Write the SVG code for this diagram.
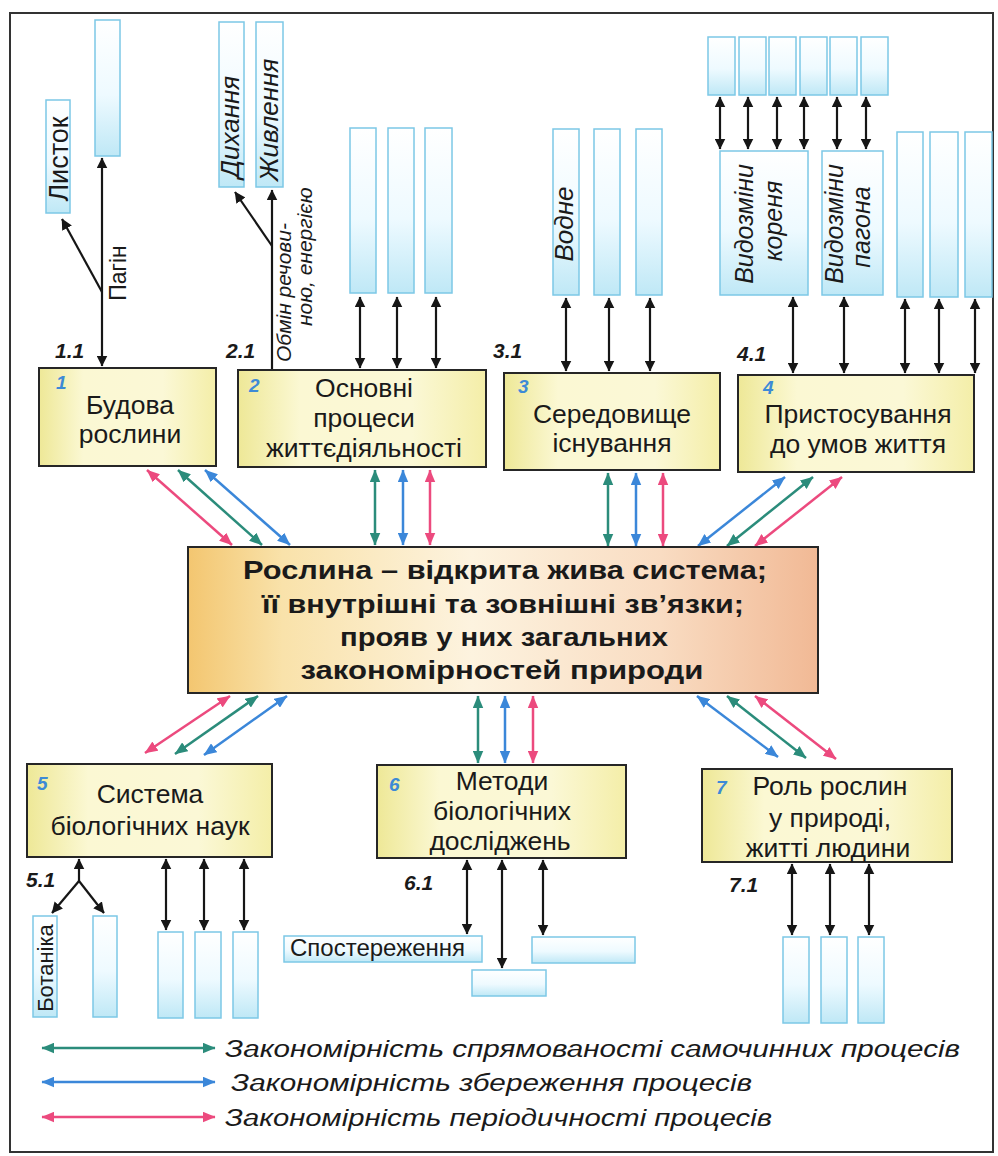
<svg xmlns="http://www.w3.org/2000/svg" width="998" height="1156" viewBox="0 0 998 1156">
  <defs>
    <linearGradient id="gYellow" x1="0" y1="0" x2="1" y2="0">
      <stop offset="0" stop-color="#eee897"/>
      <stop offset="0.25" stop-color="#fbf8d3"/>
      <stop offset="0.7" stop-color="#fbf8d6"/>
      <stop offset="1" stop-color="#f4eea8"/>
    </linearGradient>
    <linearGradient id="gBlue" x1="0" y1="0" x2="0" y2="1">
      <stop offset="0" stop-color="#ffffff"/>
      <stop offset="0.55" stop-color="#eefaff"/>
      <stop offset="1" stop-color="#bfe8f6"/>
    </linearGradient>
    <linearGradient id="gCenter" x1="0" y1="0" x2="1" y2="0">
      <stop offset="0" stop-color="#f3c670"/>
      <stop offset="0.15" stop-color="#f9e2aa"/>
      <stop offset="0.45" stop-color="#fdf3df"/>
      <stop offset="0.75" stop-color="#f9dcc2"/>
      <stop offset="1" stop-color="#f1b995"/>
    </linearGradient>
    <marker id="ahK" viewBox="0 0 10 10" refX="9.5" refY="5" markerWidth="11" markerHeight="11" markerUnits="userSpaceOnUse" orient="auto-start-reverse">
      <path d="M0,0 L10,5 L0,10 z" fill="#161616"/>
    </marker>
    <marker id="ahG" viewBox="0 0 12 10" refX="11.5" refY="5" markerWidth="13" markerHeight="11" markerUnits="userSpaceOnUse" orient="auto-start-reverse">
      <path d="M0,0 L12,5 L0,10 z" fill="#2b8c7b"/>
    </marker>
    <marker id="ahB" viewBox="0 0 12 10" refX="11.5" refY="5" markerWidth="13" markerHeight="11" markerUnits="userSpaceOnUse" orient="auto-start-reverse">
      <path d="M0,0 L12,5 L0,10 z" fill="#3b87d9"/>
    </marker>
    <marker id="ahP" viewBox="0 0 12 10" refX="11.5" refY="5" markerWidth="13" markerHeight="11" markerUnits="userSpaceOnUse" orient="auto-start-reverse">
      <path d="M0,0 L12,5 L0,10 z" fill="#ec4a7e"/>
    </marker>
    <style>
      .frame { fill: #ffffff; stroke: #333333; stroke-width: 2; }
      .node { fill: url(#gYellow); stroke: #262626; stroke-width: 2; }
      .center { fill: url(#gCenter); stroke: #262626; stroke-width: 2; }
      .cell { fill: url(#gBlue); stroke: #7cc8e6; stroke-width: 1.5; }
      .t { font-family: "Liberation Sans", Arial, sans-serif; fill: #1a1a1a; }
      .nt { font-size: 26.5px; text-anchor: middle; }
      .ct { font-size: 26px; font-weight: bold; text-anchor: middle; }
      .num { font-family: "Liberation Sans", Arial, sans-serif; font-size: 19px; font-weight: bold; font-style: italic; fill: #3d8ad6; }
      .lbl { font-family: "Liberation Sans", Arial, sans-serif; font-size: 21px; font-weight: bold; font-style: italic; fill: #1a1a1a; }
      .it { font-style: italic; }
      .leg { font-size: 23px; font-style: italic; }
      .k { stroke: #161616; stroke-width: 2.2; fill: none; }
      .kb { marker-start: url(#ahK); marker-end: url(#ahK); }
      .ke { marker-end: url(#ahK); }
      .g { stroke: #2b8c7b; stroke-width: 2.5; marker-start: url(#ahG); marker-end: url(#ahG); }
      .b { stroke: #3b87d9; stroke-width: 2.5; marker-start: url(#ahB); marker-end: url(#ahB); }
      .p { stroke: #ec4a7e; stroke-width: 2.5; marker-start: url(#ahP); marker-end: url(#ahP); }
    </style>
  </defs>

  <rect class="frame" x="10" y="13" width="983" height="1139"/>

  <!-- connectors -->
  <g id="connectors">
    <!-- black links to sub-items -->
    <line class="k kb" x1="102" y1="158" x2="102" y2="366"/>
    <line class="k ke" x1="102" y1="292" x2="62" y2="219"/>
    <line class="k ke" x1="272" y1="372" x2="272" y2="190"/>
    <line class="k ke" x1="272" y1="246" x2="235" y2="192"/>

    <line class="k kb" x1="360" y1="297" x2="360" y2="368"/>
    <line class="k kb" x1="397" y1="297" x2="397" y2="368"/>
    <line class="k kb" x1="436" y1="297" x2="436" y2="368"/>

    <line class="k kb" x1="566" y1="298" x2="566" y2="371"/>
    <line class="k kb" x1="609" y1="298" x2="609" y2="371"/>
    <line class="k kb" x1="650" y1="298" x2="650" y2="371"/>

    <line class="k kb" x1="720" y1="97" x2="720" y2="149"/>
    <line class="k kb" x1="748" y1="97" x2="748" y2="149"/>
    <line class="k kb" x1="777" y1="97" x2="777" y2="149"/>
    <line class="k kb" x1="804" y1="97" x2="804" y2="149"/>
    <line class="k kb" x1="837" y1="97" x2="837" y2="149"/>
    <line class="k kb" x1="866" y1="97" x2="866" y2="149"/>

    <line class="k kb" x1="793" y1="297" x2="793" y2="373"/>
    <line class="k kb" x1="844" y1="297" x2="844" y2="373"/>
    <line class="k kb" x1="905" y1="299" x2="905" y2="373"/>
    <line class="k kb" x1="939" y1="299" x2="939" y2="373"/>
    <line class="k kb" x1="975" y1="299" x2="975" y2="373"/>

    <line class="k ke" x1="79" y1="881" x2="79" y2="859"/>
    <line class="k ke" x1="79" y1="881" x2="52" y2="913"/>
    <line class="k ke" x1="79" y1="881" x2="104" y2="913"/>
    <line class="k kb" x1="166" y1="859" x2="166" y2="930"/>
    <line class="k kb" x1="204" y1="859" x2="204" y2="930"/>
    <line class="k kb" x1="244" y1="859" x2="244" y2="930"/>

    <line class="k kb" x1="467" y1="860" x2="467" y2="934"/>
    <line class="k kb" x1="502" y1="860" x2="502" y2="968"/>
    <line class="k kb" x1="543" y1="860" x2="543" y2="935"/>

    <line class="k kb" x1="792" y1="864" x2="792" y2="935"/>
    <line class="k kb" x1="830" y1="864" x2="830" y2="935"/>
    <line class="k kb" x1="869" y1="864" x2="869" y2="935"/>

    <!-- coloured regularity links around the central node -->
    <line class="p" x1="147" y1="470" x2="232" y2="545"/>
    <line class="g" x1="178" y1="470" x2="262" y2="545"/>
    <line class="b" x1="205" y1="470" x2="290" y2="545"/>

    <line class="g" x1="375" y1="470" x2="375" y2="545"/>
    <line class="b" x1="403" y1="470" x2="403" y2="545"/>
    <line class="p" x1="430" y1="470" x2="430" y2="545"/>

    <line class="g" x1="608" y1="473" x2="608" y2="546"/>
    <line class="b" x1="636" y1="473" x2="636" y2="546"/>
    <line class="p" x1="663" y1="473" x2="663" y2="546"/>

    <line class="b" x1="785" y1="477" x2="698" y2="546"/>
    <line class="g" x1="813" y1="477" x2="727" y2="546"/>
    <line class="p" x1="842" y1="477" x2="755" y2="546"/>

    <line class="p" x1="230" y1="696" x2="145" y2="753"/>
    <line class="g" x1="258" y1="696" x2="175" y2="754"/>
    <line class="b" x1="287" y1="696" x2="204" y2="755"/>

    <line class="g" x1="478" y1="696" x2="478" y2="763"/>
    <line class="b" x1="505" y1="696" x2="505" y2="763"/>
    <line class="p" x1="533" y1="696" x2="533" y2="763"/>

    <line class="b" x1="697" y1="696" x2="778" y2="757"/>
    <line class="g" x1="727" y1="696" x2="806" y2="758"/>
    <line class="p" x1="755" y1="696" x2="836" y2="759"/>
  </g>

  <!-- central node -->
  <g id="node-center">
    <rect class="center" x="188" y="547" width="630" height="146"/>
    <text class="t ct" x="505" y="579" textLength="524" lengthAdjust="spacingAndGlyphs">Рослина – відкрита жива система;</text>
    <text class="t ct" x="503" y="613" textLength="482" lengthAdjust="spacingAndGlyphs">її внутрішні та зовнішні зв’язки;</text>
    <text class="t ct" x="504" y="646" textLength="328" lengthAdjust="spacingAndGlyphs">прояв у них загальних</text>
    <text class="t ct" x="502" y="679" textLength="403" lengthAdjust="spacingAndGlyphs">закономірностей природи</text>
  </g>

  <!-- node 1 -->
  <g id="node-1">
    <rect class="node" x="39" y="368" width="177" height="98"/>
    <text class="num" x="56" y="389">1</text>
    <text class="t nt" x="130" y="414">Будова</text>
    <text class="t nt" x="130" y="443">рослини</text>
    <text class="lbl" x="55" y="358">1.1</text>
    <rect class="cell" x="95" y="20" width="25" height="136"/>
    <rect class="cell" x="46" y="100" width="24" height="113"/>
    <text class="t" font-size="27" text-anchor="middle" transform="translate(68,159) rotate(-90)">Листок</text>
    <text class="t" font-size="23" text-anchor="middle" transform="translate(126,273) rotate(-90)">Пагін</text>
  </g>

  <!-- node 2 -->
  <g id="node-2">
    <rect class="node" x="238" y="370" width="248" height="97"/>
    <text class="num" x="249" y="392">2</text>
    <text class="t nt" x="364" y="397">Основні</text>
    <text class="t nt" x="364" y="427">процеси</text>
    <text class="t nt" x="364" y="457">життєдіяльності</text>
    <text class="lbl" x="226" y="358">2.1</text>
    <rect class="cell" x="219" y="22" width="25" height="165"/>
    <rect class="cell" x="256" y="22" width="27" height="165"/>
    <text class="t it" font-size="26" text-anchor="middle" transform="translate(239,127) rotate(-90)">Дихання</text>
    <text class="t it" font-size="26" text-anchor="middle" transform="translate(278,120) rotate(-90)">Живлення</text>
    <text class="t it" font-size="21" transform="translate(291,362) rotate(-90)">Обмін речови-</text>
    <text class="t it" font-size="21" transform="translate(312,326) rotate(-90)">ною, енергією</text>
    <rect class="cell" x="350" y="128" width="26" height="165"/>
    <rect class="cell" x="388" y="128" width="26" height="165"/>
    <rect class="cell" x="425" y="128" width="27" height="165"/>
  </g>

  <!-- node 3 -->
  <g id="node-3">
    <rect class="node" x="504" y="373" width="216" height="97"/>
    <text class="num" x="518" y="393">3</text>
    <text class="t nt" x="612" y="423">Середовище</text>
    <text class="t nt" x="612" y="452">існування</text>
    <text class="lbl" x="493" y="358">3.1</text>
    <rect class="cell" x="553" y="129" width="26" height="166"/>
    <rect class="cell" x="594" y="129" width="26" height="166"/>
    <rect class="cell" x="636" y="129" width="26" height="166"/>
    <text class="t it" font-size="26" text-anchor="middle" transform="translate(573,224) rotate(-90)">Водне</text>
  </g>

  <!-- node 4 -->
  <g id="node-4">
    <rect class="node" x="738" y="375" width="236" height="97"/>
    <text class="num" x="763" y="394">4</text>
    <text class="t nt" x="858" y="423">Пристосування</text>
    <text class="t nt" x="858" y="453">до умов життя</text>
    <text class="lbl" x="737" y="361">4.1</text>
    <rect class="cell" x="708" y="37" width="27" height="58"/>
    <rect class="cell" x="739" y="37" width="27" height="58"/>
    <rect class="cell" x="769" y="37" width="27" height="58"/>
    <rect class="cell" x="800" y="37" width="27" height="58"/>
    <rect class="cell" x="830" y="37" width="27" height="58"/>
    <rect class="cell" x="861" y="37" width="27" height="58"/>
    <rect class="cell" x="720" y="151" width="88" height="144"/>
    <rect class="cell" x="822" y="151" width="61" height="144"/>
    <text class="t it" font-size="25" text-anchor="middle" transform="translate(753,224) rotate(-90)">Видозміни</text>
    <text class="t it" font-size="25" text-anchor="middle" transform="translate(782,221) rotate(-90)">кореня</text>
    <text class="t it" font-size="25" text-anchor="middle" transform="translate(843,224) rotate(-90)">Видозміни</text>
    <text class="t it" font-size="25" text-anchor="middle" transform="translate(870,227) rotate(-90)">пагона</text>
    <rect class="cell" x="897" y="132" width="26" height="165"/>
    <rect class="cell" x="930" y="132" width="28" height="165"/>
    <rect class="cell" x="965" y="132" width="27" height="165"/>
  </g>

  <!-- node 5 -->
  <g id="node-5">
    <rect class="node" x="27" y="764" width="245" height="93"/>
    <text class="num" x="37" y="790">5</text>
    <text class="t nt" x="150" y="803">Система</text>
    <text class="t nt" x="150" y="835">біологічних наук</text>
    <text class="lbl" x="26" y="887">5.1</text>
    <rect class="cell" x="33" y="916" width="24" height="101"/>
    <rect class="cell" x="93" y="916" width="24" height="101"/>
    <text class="t" font-size="22" text-anchor="middle" transform="translate(53,968) rotate(-90)">Ботаніка</text>
    <rect class="cell" x="158" y="932" width="25" height="86"/>
    <rect class="cell" x="195" y="932" width="26" height="86"/>
    <rect class="cell" x="233" y="932" width="25" height="86"/>
  </g>

  <!-- node 6 -->
  <g id="node-6">
    <rect class="node" x="377" y="765" width="249" height="93"/>
    <text class="num" x="389" y="791">6</text>
    <text class="t nt" x="502" y="790">Методи</text>
    <text class="t nt" x="502" y="820">біологічних</text>
    <text class="t nt" x="500" y="850">досліджень</text>
    <text class="lbl" x="404" y="890">6.1</text>
    <rect class="cell" x="284" y="936" width="198" height="26"/>
    <text class="t" font-size="24" x="290" y="956">Спостереження</text>
    <rect class="cell" x="472" y="970" width="74" height="26"/>
    <rect class="cell" x="532" y="937" width="103" height="26"/>
  </g>

  <!-- node 7 -->
  <g id="node-7">
    <rect class="node" x="702" y="769" width="250" height="93"/>
    <text class="num" x="716" y="794">7</text>
    <text class="t nt" x="830" y="795">Роль рослин</text>
    <text class="t nt" x="830" y="827">у природі,</text>
    <text class="t nt" x="828" y="857">житті людини</text>
    <text class="lbl" x="729" y="892">7.1</text>
    <rect class="cell" x="783" y="937" width="26" height="86"/>
    <rect class="cell" x="821" y="937" width="26" height="86"/>
    <rect class="cell" x="858" y="937" width="26" height="86"/>
  </g>

  <!-- legend -->
  <g id="legend">
    <line class="g" x1="42" y1="1048" x2="215" y2="1048" stroke-width="3"/>
    <line class="b" x1="42" y1="1082" x2="215" y2="1082" stroke-width="3"/>
    <line class="p" x1="42" y1="1117" x2="215" y2="1117" stroke-width="3"/>
    <text class="t leg" x="225" y="1057" textLength="735" lengthAdjust="spacingAndGlyphs">Закономірність спрямованості самочинних процесів</text>
    <text class="t leg" x="231" y="1091" textLength="521" lengthAdjust="spacingAndGlyphs">Закономірність збереження процесів</text>
    <text class="t leg" x="225" y="1126" textLength="547" lengthAdjust="spacingAndGlyphs">Закономірність періодичності процесів</text>
  </g>
</svg>
